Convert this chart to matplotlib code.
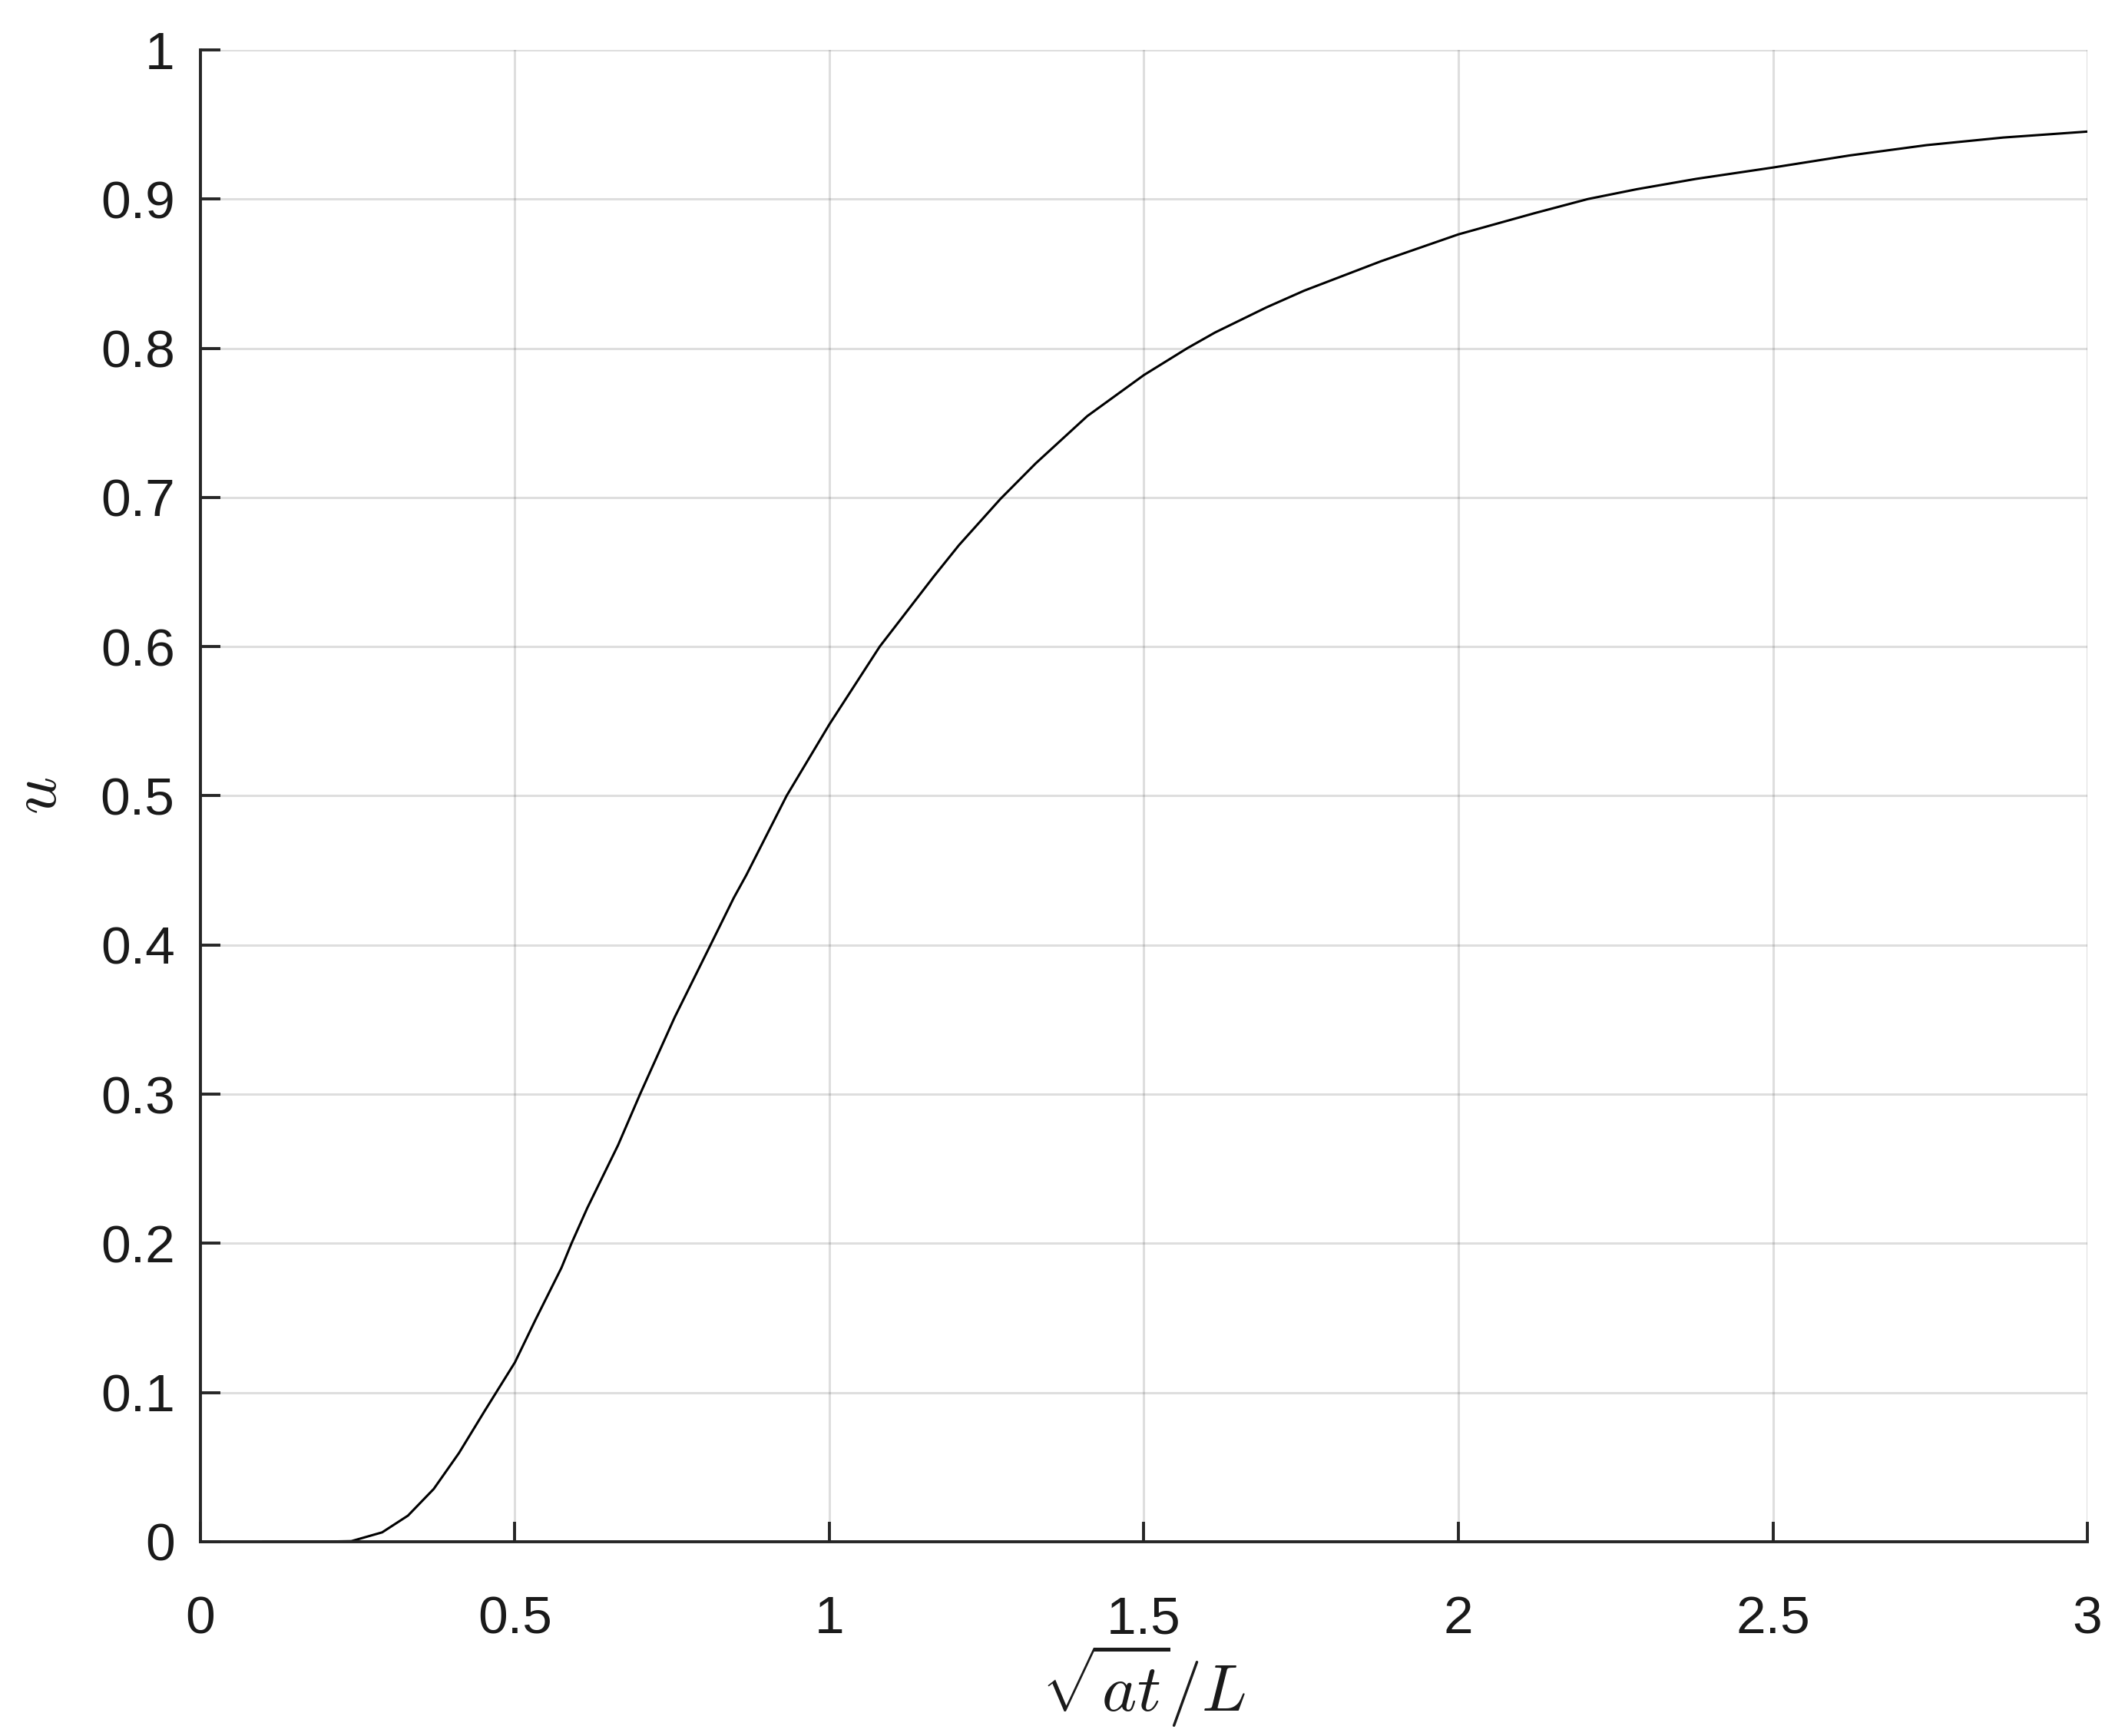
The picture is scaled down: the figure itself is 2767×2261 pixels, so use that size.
import numpy as np
import matplotlib
matplotlib.use('Agg')
import matplotlib.pyplot as plt

# values
s_vals = [0.10, 0.15, 0.20, 0.240, 0.289, 0.330, 0.371, 0.411, 0.452, 0.500,
          0.533, 0.574, 0.590, 0.615, 0.664, 0.699, 0.754, 0.811, 0.848, 0.868,
          0.932, 1.000, 1.080, 1.166, 1.206, 1.272, 1.328, 1.410, 1.500, 1.569,
          1.613, 1.695, 1.755, 1.877, 2.000, 2.121, 2.206, 2.284, 2.378, 2.500,
          2.622, 2.744, 2.866, 3.000]
u_vals = [0.0, 0.0, 0.0001, 0.0004, 0.0063, 0.0175, 0.0354, 0.0594, 0.0877, 0.1202,
          0.149, 0.1836, 0.200, 0.2236, 0.2658, 0.300, 0.3515, 0.400, 0.4316, 0.4469,
          0.500, 0.5479, 0.600, 0.647, 0.668, 0.699, 0.7228, 0.7545, 0.782, 0.800,
          0.8105, 0.8274, 0.8386, 0.8583, 0.8763, 0.8905, 0.900, 0.9066, 0.9135, 0.9211,
          0.9292, 0.9361, 0.9412, 0.9452]

xticks = [0, 0.5, 1, 1.5, 2, 2.5, 3]
xticklabels = ['0', '0.5', '1', '1.5', '2', '2.5', '3']
yticks = [0, 0.1, 0.2, 0.3, 0.4, 0.5, 0.6, 0.7, 0.8, 0.9, 1]
yticklabels = ['0', '0.1', '0.2', '0.3', '0.4', '0.5', '0.6', '0.7', '0.8', '0.9', '1']

plt.rcParams['font.family'] = ['Liberation Sans', 'DejaVu Sans']
plt.rcParams['mathtext.fontset'] = 'cm'

fig = plt.figure(figsize=(27.67, 22.61), dpi=100)
ax = fig.add_axes([0.0943, 0.1119, 0.9823 - 0.0943, 0.9713 - 0.1119])

ax.plot(s_vals, u_vals, color='black', linewidth=2.2)

ax.set_xlim(0, 3)
ax.set_ylim(0, 1)
ax.set_xticks(xticks)
ax.set_xticklabels(xticklabels)
ax.set_yticks(yticks)
ax.set_yticklabels(yticklabels)

ax.grid(True, color='#262626', alpha=0.15, linewidth=2.2)
ax.set_axisbelow(True)

for side in ['top', 'right']:
    ax.spines[side].set_visible(False)
for side in ['left', 'bottom']:
    ax.spines[side].set_linewidth(2.8)
    ax.spines[side].set_color('#262626')

ax.tick_params(axis='both', direction='in', length=19, width=2.8,
               colors='#262626', labelcolor='#1a1a1a', labelsize=50)
ax.tick_params(axis='x', pad=50)
ax.tick_params(axis='y', pad=24)

ax.set_xlabel(r'$\sqrt{at}/L$', fontsize=62, color='#1a1a1a')
ax.xaxis.set_label_coords(0.5, -0.068)
ax.xaxis.label.set_va('top')
ax.set_ylabel(r'$u$', fontsize=62, color='#1a1a1a')
ax.yaxis.set_label_coords(-0.069, 0.5)

fig.savefig('out.png', dpi=100, facecolor='white')
